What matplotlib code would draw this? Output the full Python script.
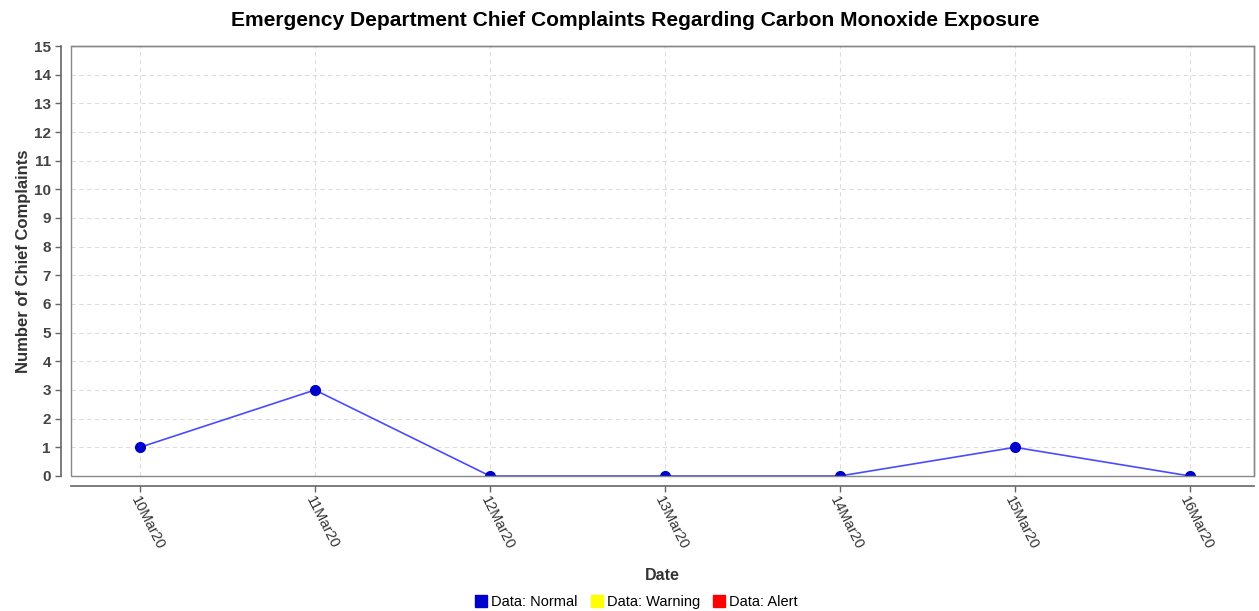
import matplotlib.pyplot as plt
from matplotlib.patches import Rectangle
from matplotlib.lines import Line2D
from matplotlib.transforms import ScaledTranslation

plt.rcParams['font.family'] = ['Liberation Sans', 'DejaVu Sans']

dates = ['10Mar20', '11Mar20', '12Mar20', '13Mar20', '14Mar20', '15Mar20', '16Mar20']
counts = [1, 3, 0, 0, 0, 1, 0]
legend_labels = ['Data: Normal', 'Data: Warning', 'Data: Alert']
legend_colors = ['#0000cc', '#ffff00', '#ff0000']

fig = plt.figure(figsize=(12.59, 6.11), dpi=100)
ax = fig.add_axes([0.0564, 0.221, 0.9396, 0.7037])

x = list(range(len(dates)))
ax.plot(x, counts, color='#4a4aff', linewidth=1.2, zorder=3)
ax.plot(x, counts, 'o', color='#0000cc', markersize=7, zorder=4)

ax.set_xlim(-0.394, 6.366)
ax.set_ylim(0, 15)
ax.set_yticks(range(0, 16))
ax.set_xticks(x)
ax.set_xticklabels(dates)

ax.grid(True, color='#dddddd', linestyle=(0, (4, 3)), linewidth=0.8)
ax.set_axisbelow(True)

# plot area border
for s in ['top', 'right']:
    ax.spines[s].set_color('#888888')
    ax.spines[s].set_linewidth(1)
# offset axis lines
ax.spines['left'].set_position(('outward', 7))
ax.spines['bottom'].set_position(('outward', 7))
for s in ['left', 'bottom']:
    ax.spines[s].set_color('#666666')
    ax.spines[s].set_linewidth(1.2)
ax.add_patch(Rectangle((0, 0), 1, 1, transform=ax.transAxes, fill=False,
                       edgecolor='#888888', linewidth=1, zorder=5, clip_on=False))
ax.tick_params(axis='both', length=4, color='#666666', width=1)
ax.tick_params(axis='x', pad=4)

shift = ScaledTranslation(-6 / 100, 0, fig.dpi_scale_trans)
for lab in ax.get_xticklabels():
    lab.set_rotation(-63)
    lab.set_rotation_mode('anchor')
    lab.set_ha('left')
    lab.set_va('center')
    lab.set_fontsize(10.5)
    lab.set_color('#333333')
    lab.set_transform(lab.get_transform() + shift)
for lab in ax.get_yticklabels():
    lab.set_fontweight('bold')
    lab.set_fontsize(11)
    lab.set_color('#444444')

fig.text(0.5045, 0.967,
         'Emergency Department Chief Complaints Regarding Carbon Monoxide Exposure',
         fontsize=15.1, fontweight='bold', ha='center', va='center')
ax.set_xlabel('Date', fontsize=11.5, fontweight='bold', color='#333333')
ax.set_ylabel('Number of Chief Complaints', fontsize=12, fontweight='bold',
              color='#333333')
ax.xaxis.set_label_coords(0.5, -0.215)
ax.yaxis.set_label_coords(-0.034, 0.5)

handles = [Line2D([], [], marker='s', linestyle='none', markersize=8,
                  markerfacecolor=c, markeredgecolor=c) for c in legend_colors]
fig.legend(handles, legend_labels, loc='center', bbox_to_anchor=(0.505, 0.014),
           ncol=3, frameon=False, fontsize=10.5, handletextpad=0.2,
           columnspacing=0.8, handlelength=1)

fig.savefig('out.png', dpi=100)
